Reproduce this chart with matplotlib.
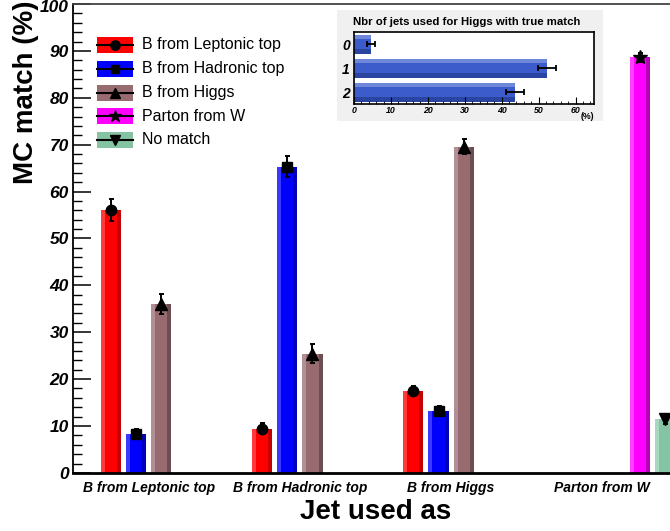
import matplotlib
matplotlib.use("Agg")
import matplotlib.pyplot as plt
from matplotlib.patches import Rectangle
from matplotlib.lines import Line2D
from matplotlib.ticker import MultipleLocator, FuncFormatter

plt.rcParams['font.family'] = ['Liberation Sans', 'DejaVu Sans']

# Jet assignment categories (x axis) and MC truth series
jet_roles = ["B from Leptonic top", "B from Hadronic top", "B from Higgs", "Parton from W"]
truth_names = ["B from Leptonic top", "B from Hadronic top", "B from Higgs", "Parton from W", "No match"]

# percentages per jet role, 0 = not filled
b_lep_top = [56.1, 9.4, 17.5, 0.0]
b_had_top = [8.3, 65.3, 13.2, 0.0]
b_higgs = [36.0, 25.4, 69.6, 0.0]
parton_w = [0.0, 0.0, 0.0, 88.6]
no_match = [0.0, 0.0, 0.0, 11.5]

b_lep_top_err = [2.3, 1.2, 1.1, 0.0]
b_had_top_err = [1.1, 2.2, 1.0, 0.0]
b_higgs_err = [2.2, 2.0, 1.6, 0.0]
parton_w_err = [0.0, 0.0, 0.0, 1.0]
no_match_err = [0.0, 0.0, 0.0, 1.0]

# inset: number of jets used for the Higgs with true match
n_jets = ["0", "1", "2"]
n_jets_frac = [4.5, 52.2, 43.6]
n_jets_err = [1.1, 2.5, 2.4]

values = [b_lep_top, b_had_top, b_higgs, parton_w, no_match]
errors = [b_lep_top_err, b_had_top_err, b_higgs_err, parton_w_err, no_match_err]
markers = ['o', 's', '^', '*', 'v']
msizes = [7.5, 7.0, 8.5, 10, 8.5]
# (main, light, dark) shades for the bar look
colors = [("#ff0000", "#ff3a3a", "#c40000"),
          ("#0000ff", "#3a3aff", "#0000bb"),
          ("#976b70", "#b09094", "#6d4e52"),
          ("#ff00ff", "#ff40ff", "#b800b8"),
          ("#85c4a2", "#aad7bf", "#6aa585")]

W, H = 670, 531
fig = plt.figure(figsize=(W / 100, H / 100), dpi=100)

def fx(px):
    return px / W

def fy(py):
    return 1 - py / H

ax = fig.add_axes([fx(73), fy(472.9), fx(678) - fx(73), fy(4) - fy(472.9)])

bw = 0.8
strip = 0.2
for k in range(5):
    main, light, dark = colors[k]
    for g in range(4):
        v = values[k][g]
        if v <= 0:
            continue
        x = 6 * g + 1 + k + 0.5
        ax.bar(x, v, bw, color=main, lw=0, zorder=2)
        ax.bar(x - bw / 2 + bw * strip / 2, v, bw * strip, color=light, lw=0, zorder=2)
        ax.bar(x + bw / 2 - bw * strip / 2, v, bw * strip, color=dark, lw=0, zorder=2)
        ax.errorbar(x, v, yerr=errors[k][g], fmt=markers[k], ms=msizes[k],
                    color='black', ecolor='black', elinewidth=1.4, capsize=1.8,
                    capthick=1.4, zorder=4)

ax.set_xlim(0, 24)
ax.set_ylim(0, 100)
ax.set_xticks([3 + 6 * g for g in range(4)])
ax.set_xticklabels(jet_roles, fontsize=10, fontweight='bold', fontstyle='italic')
ax.tick_params(axis='x', length=0, pad=6)
ax.yaxis.set_major_locator(MultipleLocator(10))
ax.yaxis.set_minor_locator(MultipleLocator(2))
# the 100 label sits at the canvas edge, it is drawn separately a bit lower
ax.yaxis.set_major_formatter(FuncFormatter(lambda v, p: "" if v >= 100 else f"{v:.0f}"))
ax.tick_params(axis='y', which='major', direction='in', length=13, width=1.1, pad=3,
               labelsize=12.5)
ax.tick_params(axis='y', which='minor', direction='in', length=6.5, width=1.0)
for lab in ax.get_yticklabels():
    lab.set_fontweight('bold')
    lab.set_fontstyle('italic')
ax.annotate("100", xy=(0, 100), xycoords=('axes fraction', 'data'), xytext=(-3, -2.5),
            textcoords='offset points', ha='right', va='center', fontsize=12.5,
            fontweight='bold', fontstyle='italic', annotation_clip=False)
ax.spines['bottom'].set_linewidth(2.0)
ax.spines['left'].set_linewidth(1.3)
ax.spines['top'].set_linewidth(1.3)
ax.spines['top'].set_color('#444444')

fig.text(fx(26), fy(1), "MC match (%)", rotation=90, ha='center', va='top',
         fontsize=20, fontweight='bold')
fig.text(fx(376), fy(512), "Jet used as", ha='center', va='center',
         fontsize=20, fontweight='bold')

# legend
for i in range(5):
    yc = 45 + 23.75 * i
    main = colors[i][0]
    fig.add_artist(Rectangle((fx(97), fy(yc + 8)), fx(133) - fx(97), fy(yc - 8) - fy(yc + 8),
                             transform=fig.transFigure, color=main, lw=0))
    fig.add_artist(Line2D([fx(97), fx(133)], [fy(yc), fy(yc)], transform=fig.transFigure,
                          color='black', lw=1.5))
    fig.add_artist(Line2D([fx(115)], [fy(yc)], transform=fig.transFigure, color='black',
                          marker=markers[i], ms=msizes[i] * 0.9, lw=0))
    fig.text(fx(142), fy(yc), truth_names[i], ha='left', va='center', fontsize=11.5)

# inset panel
fig.add_artist(Rectangle((fx(337), fy(121)), fx(603) - fx(337), fy(10) - fy(121),
                         transform=fig.transFigure, color='#f0f0f0', lw=0, zorder=5))
fig.text(fx(353), fy(22), "Nbr of jets used for Higgs with true match", ha='left',
         va='center', fontsize=8.2, fontweight='bold', zorder=6)
inset = fig.add_axes([fx(354), fy(104.3), fx(594) - fx(354), fy(32.3) - fy(104.3)], zorder=6)
inset.set_facecolor('white')
bh = 0.77
ypos = list(range(len(n_jets)))
for i, v in enumerate(n_jets_frac):
    inset.barh(i, v, bh, color="#3d5ccc", lw=0)
    inset.barh(i - bh / 2 + bh * 0.12, v, bh * 0.24, color="#6d87da", lw=0)
    inset.barh(i + bh / 2 - bh * 0.12, v, bh * 0.24, color="#2a44a2", lw=0)
inset.errorbar(n_jets_frac, ypos, xerr=n_jets_err, fmt='none', ecolor='black',
               elinewidth=1.3, capsize=2, capthick=1.3)
inset.set_xlim(0, 65)
inset.set_ylim(2.5, -0.5)
inset.set_yticks(ypos)
inset.set_yticklabels(n_jets, fontsize=10, fontweight='bold', fontstyle='italic')
inset.tick_params(axis='y', length=0, pad=3)
inset.xaxis.set_major_locator(MultipleLocator(10))
inset.xaxis.set_minor_locator(MultipleLocator(2))
inset.tick_params(axis='x', which='major', direction='in', length=5, width=0.8, pad=1,
                  labelsize=6.3)
inset.tick_params(axis='x', which='minor', direction='in', length=2.5, width=0.6)
for lab in inset.get_xticklabels():
    lab.set_fontweight('bold')
    lab.set_fontstyle('italic')
for sp in inset.spines.values():
    sp.set_linewidth(1.2)
fig.text(fx(587), fy(116), "(%)", ha='center', va='center', fontsize=6.3, fontweight='bold',
         zorder=7)

fig.savefig("out.png", dpi=100)
